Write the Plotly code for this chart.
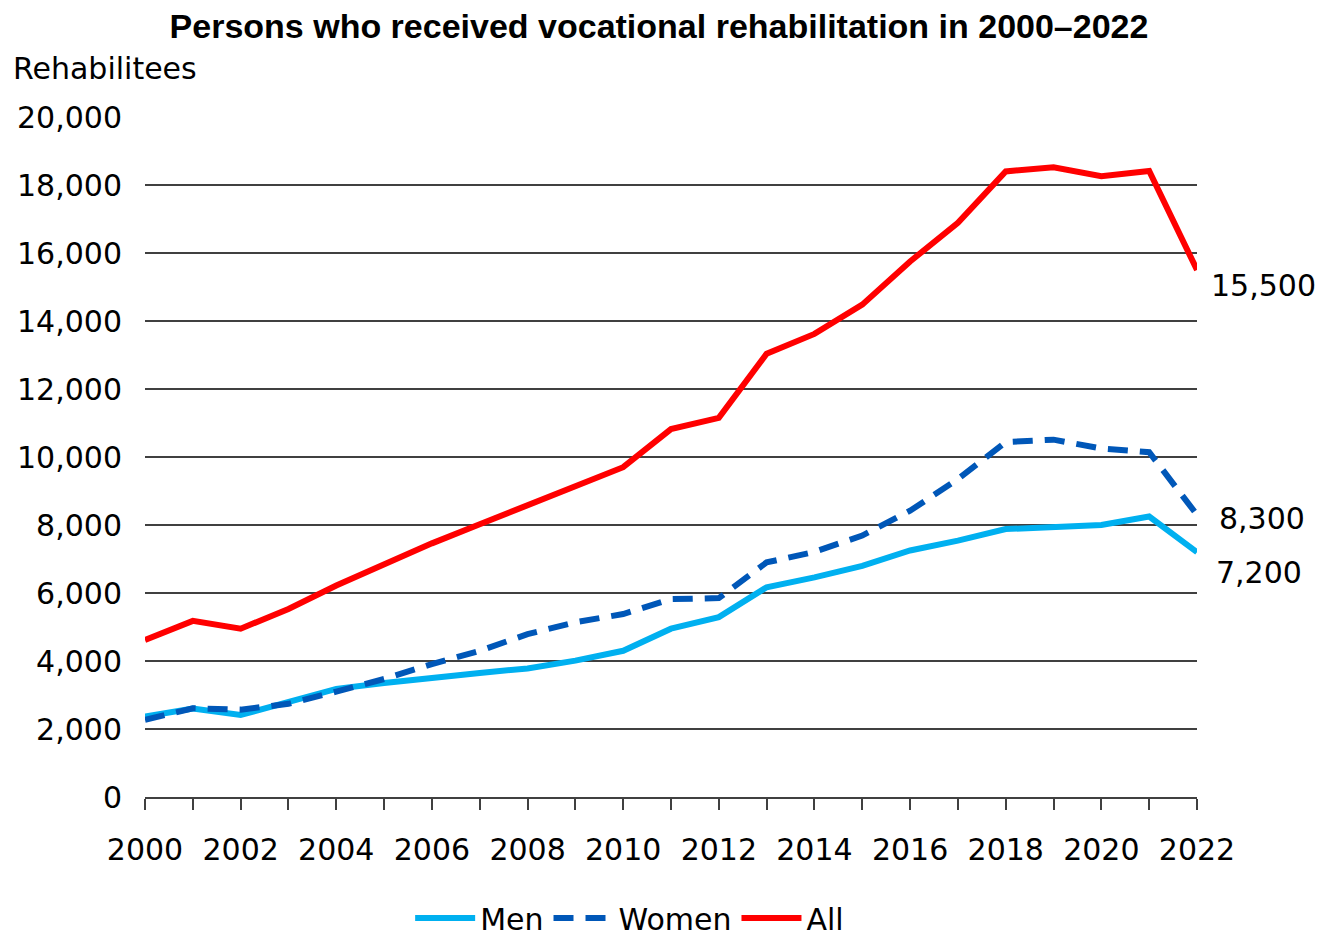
import plotly.graph_objects as go

years = list(range(2000, 2023))
men = [2370, 2600, 2410, 2800, 3180, 3350, 3520, 3650, 3780, 4010, 4300, 4950,
       5290, 6170, 6460, 6800, 7250, 7540, 7880, 7960, 8000, 8250, 7200]
women = [2270, 2610, 2570, 2740, 3100, 3470, 3910, 4300, 4790, 5140, 5380, 5820,
         5850, 6900, 7210, 7690, 8420, 9350, 10440, 10510, 10250, 10140, 8300]
all_ = [4620, 5180, 4950, 5530, 6220, 6860, 7460, 8020, 8590, 9120, 9700, 10820,
        11150, 13040, 13620, 14480, 15750, 16890, 18400, 18520, 18260, 18410, 15500]

end_labels = ["15,500", "8,300", "7,200"]
y_ticks = list(range(0, 20001, 2000))
y_tick_text = [f"{v:,}" for v in y_ticks]
x_tick_text = [str(y) if y % 2 == 0 else "" for y in years]

FONT = "DejaVu Sans"

fig = go.Figure()
fig.add_trace(go.Scatter(x=years, y=men, name="Men", mode="lines",
                         line=dict(color="#00B0F0", width=6)))
fig.add_trace(go.Scatter(x=years, y=women, name="Women", mode="lines",
                         line=dict(color="#0057B8", width=6, dash="20px,12px")))
fig.add_trace(go.Scatter(x=years, y=all_, name="All", mode="lines",
                         line=dict(color="#FF0000", width=6)))

# end-of-line value labels
for series, text, ysh, xsh in [(all_, end_labels[0], -15, 12),
                               (women, end_labels[1], -4, 20),
                               (men, end_labels[2], -20, 17)]:
    fig.add_annotation(x=years[-1], y=series[-1], text=text, showarrow=False,
                       xanchor="left", yanchor="middle", xshift=xsh, yshift=ysh,
                       font=dict(family=FONT, size=30, color="#000000"))

fig.add_annotation(text="Rehabilitees", xref="paper", yref="paper",
                   x=-0.127, y=1.072, xanchor="left", yanchor="middle",
                   showarrow=False, font=dict(family=FONT, size=30, color="#000000"))

fig.update_layout(
    width=1334, height=942,
    paper_bgcolor="white", plot_bgcolor="white",
    margin=dict(l=145, r=137, t=117, b=145),
    title=dict(text="<b>Persons who received vocational rehabilitation in 2000–2022</b>",
               x=0.494, xref="container", xanchor="center",
               y=1 - 26 / 942, yref="container", yanchor="middle",
               font=dict(family="Liberation Sans", size=34, color="#000000")),
    showlegend=True,
    legend=dict(orientation="h", x=0.472, xref="container", xanchor="center",
                y=1 - 918 / 942, yref="container", yanchor="middle",
                font=dict(family=FONT, size=30, color="#000000"),
                itemwidth=60, tracegroupgap=0, bgcolor="rgba(0,0,0,0)"),
    font=dict(family=FONT, size=30, color="#000000"),
)

fig.update_xaxes(range=[2000, 2022], tickvals=years, ticktext=x_tick_text,
                 ticks="outside", ticklen=11, tickwidth=2, tickcolor="#404040",
                 showline=True, linecolor="#404040", linewidth=2,
                 showgrid=False, zeroline=False, ticklabelstandoff=14,
                 tickfont=dict(family=FONT, size=30, color="#000000"))
fig.update_yaxes(range=[0, 20000], tickvals=y_ticks, ticktext=y_tick_text,
                 showgrid=True, gridcolor="#404040", gridwidth=2,
                 zeroline=False, showline=False, ticks="",
                 ticklabelstandoff=22,
                 tickfont=dict(family=FONT, size=30, color="#000000"))

fig.write_html("out.html", config={"displayModeBar": False},
               post_script="document.body.style.margin='0';document.body.style.overflow='hidden';")
